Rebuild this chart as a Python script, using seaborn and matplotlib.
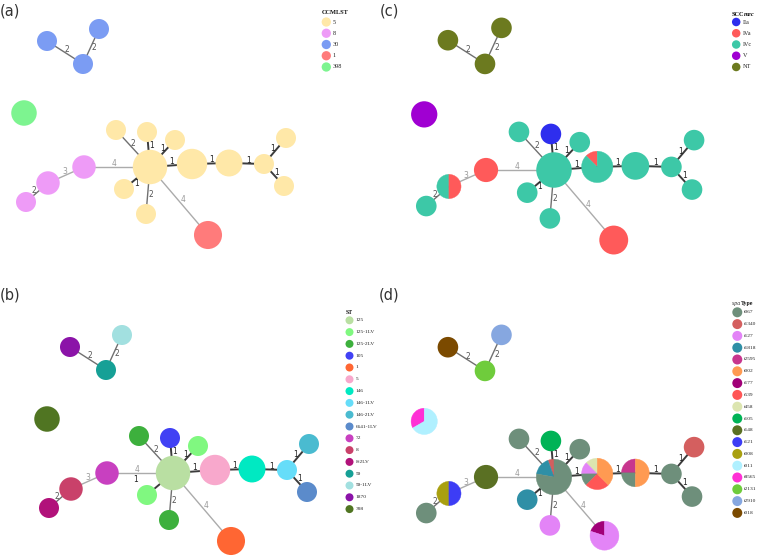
import numpy as np
import matplotlib
matplotlib.use("Agg")
import matplotlib.pyplot as plt
from matplotlib.patches import Circle, Wedge
import seaborn as sns

sns.set_theme(style="white")
plt.rcParams['font.family'] = ['DejaVu Sans']

# ------------------------------------------------------------------ data
node_names = ["hub", "R1", "R2", "R3", "RT", "RB", "UL", "T", "UR", "LL", "B",
              "CC1", "P1", "P2", "P3", "ISO", "A1", "A2", "A3"]
node_counts = [18, 8, 4, 1, 1, 1, 1, 1, 1, 1, 1, 5, 2, 2, 1, 3, 1, 1, 1]

edge_from = ["hub", "hub", "hub", "hub", "R1", "R2", "R3", "R3", "hub", "hub", "hub", "hub", "P1", "P2", "A1", "A3"]
edge_to = ["UL", "T", "UR", "R1", "R2", "R3", "RT", "RB", "LL", "B", "CC1", "P1", "P2", "P3", "A3", "A2"]
edge_dist = [2, 1, 1, 1, 1, 1, 1, 1, 1, 2, 4, 4, 3, 2, 2, 2]

ccmlst_types = ["5", "8", "30", "1", "398"]
ccmlst_colors = ["#FFE8A8", "#EE9BF7", "#7B9CF3", "#FF7B7B", "#7DF490"]
ccmlst_node = ["5", "5", "5", "5", "5", "5", "5", "5", "5", "5", "5",
               "1", "8", "8", "8", "398", "30", "30", "30"]

sccmec_types = ["IIa", "IVa", "IVc", "V", "NT"]
sccmec_colors = ["#2E2EEE", "#FF5A5A", "#3DC8A7", "#A000D2", "#6C7A1F"]
sccmec_node = [[("IVc", 18)], [("IVa", 1), ("IVc", 7)], [("IVc", 4)], [("IVc", 1)],
               [("IVc", 1)], [("IVc", 1)], [("IVc", 1)], [("IIa", 1)], [("IVc", 1)],
               [("IVc", 1)], [("IVc", 1)], [("IVa", 5)], [("IVa", 2)],
               [("IVc", 1), ("IVa", 1)], [("IVc", 1)], [("V", 3)],
               [("NT", 1)], [("NT", 1)], [("NT", 1)]]

st_types = ["125", "125-1LV", "125-2LV", "105", "1", "5", "146", "146-1LV", "146-2LV",
            "6641-1LV", "72", "8", "8-2LV", "59", "59-1LV", "1870", "398"]
st_colors = ["#B9DFA2", "#80F880", "#3DB03D", "#4141F4", "#FF6633", "#F8A8CC", "#00E9C2",
             "#66DDF9", "#4ABBD0", "#5B8BCB", "#C840C0", "#C9416A", "#B1127A", "#16A096",
             "#A2E0E0", "#8B13A8", "#507522"]
st_node = ["125", "5", "146", "146-1LV", "146-2LV", "6641-1LV", "125-2LV", "105", "125-1LV",
           "125-1LV", "125-2LV", "1", "72", "8", "8-2LV", "398", "1870", "59-1LV", "59"]

spa_types = ["t067", "t1340", "t127", "t1818", "t2595", "t002", "t177", "t539", "t458",
             "t105", "t148", "t121", "t008", "t011", "t8565", "t2131", "t2910", "t018"]
spa_colors = ["#6E8F7B", "#D45F5F", "#E384F7", "#2F8FA6", "#C8368E", "#FF9A52", "#A10078",
              "#FF5656", "#DCE5B0", "#00B356", "#5A7023", "#3D3DF5", "#A9A010", "#B0F0FF",
              "#FF30D5", "#6FCC3C", "#86A7E0", "#7B4A00"]
spa_node = [[("t1340", 1), ("t1818", 3), ("t067", 14)],
            [("t458", 1), ("t127", 1), ("t067", 1), ("t539", 2), ("t002", 3)],
            [("t2595", 1), ("t067", 1), ("t002", 2)],
            [("t067", 1)], [("t1340", 1)], [("t067", 1)], [("t067", 1)], [("t105", 1)],
            [("t067", 1)], [("t1818", 1)], [("t127", 1)],
            [("t177", 1), ("t127", 4)], [("t148", 2)], [("t008", 1), ("t121", 1)],
            [("t067", 1)], [("t8565", 1), ("t011", 2)],
            [("t018", 1)], [("t2910", 1)], [("t2131", 1)]]

# ------------------------------------------------------------------ layout
layout_rel = {"hub": (0, 0), "R1": (42, -3), "R2": (79, -4), "R3": (114, -3),
              "RT": (136, -29), "RB": (134, 19), "UL": (-34, -37), "T": (-3, -35),
              "UR": (25, -27), "LL": (-26, 22), "B": (-4, 47), "CC1": (58, 68),
              "P1": (-66, 0), "P2": (-102, 16), "P3": (-124, 35), "ISO": (-126, -54),
              "A1": (-103, -126), "A2": (-51, -138), "A3": (-67, -103)}
label_flip = {("hub", "LL"), ("A3", "A2")}

fig = plt.figure(figsize=(7.59, 5.60), dpi=100, facecolor="white")
ax = fig.add_axes([0, 0, 1, 1])
ax.set_facecolor("white")

SERIF = "Liberation Serif"


def radius(n, sc):
    return (10 + 2.5 * np.log(n)) * sc


def draw_panel(hub, sc, slices_list, cmap, overrides=None, label_over=None):
    overrides = overrides or {}
    label_over = label_over or {}
    pos = {}
    rad = {}
    for name, n in zip(node_names, node_counts):
        rx, ry = overrides.get(name, layout_rel[name])
        pos[name] = np.array([hub[0] + sc * rx, hub[1] + sc * ry])
        rad[name] = radius(n, sc)
    # edges
    for f, t, d in zip(edge_from, edge_to, edge_dist):
        p1, p2 = pos[f], pos[t]
        if d == 1:
            col, lw, tc = "#3c3c3c", 1.4, "#222222"
        elif d == 2:
            col, lw, tc = "#707070", 1.0, "#555555"
        else:
            col, lw, tc = "#ababab", 1.0, "#9a9a9a"
        ax.plot([p1[0], p2[0]], [p1[1], p2[1]], color=col, lw=lw, zorder=1,
                solid_capstyle="butt")
        u = (p2 - p1) / np.linalg.norm(p2 - p1)
        a = p1 + u * rad[f]
        b = p2 - u * rad[t]
        mid = (a + b) / 2
        perp = np.array([u[1], -u[0]])
        if abs(perp[1]) < 0.2:
            if perp[0] < 0:
                perp = -perp
        elif perp[1] > 0:
            perp = -perp
        if (f, t) in label_flip:
            perp = -perp
        lp = mid + perp * 3.5
        if (f, t) in label_over:
            ox, oy = label_over[(f, t)]
            lp = np.array([hub[0] + ox, hub[1] + oy])
        ax.text(lp[0], lp[1], str(d), fontsize=5.5, color=tc, ha="center",
                va="center", zorder=4)
    # nodes
    for name, n, sl in zip(node_names, node_counts, slices_list):
        cx, cy = pos[name]
        r = rad[name]
        if isinstance(sl, str):
            sl = [(sl, n)]
        if len(sl) == 1:
            ax.add_patch(Circle((cx, cy), r, fc=cmap[sl[0][0]], ec="none", zorder=3))
        else:
            total = sum(c for _, c in sl)
            start = 270.0
            for tname, c in sl:
                ang = 360.0 * c / total
                ax.add_patch(Wedge((cx, cy), r, start - ang, start, fc=cmap[tname],
                                   ec=cmap[tname], lw=0.3, zorder=3))
                start -= ang


def draw_legend(x_dot, y0, step, types, colors, dot_d, fs):
    ys = [y0 + i * step for i in range(len(types))]
    sns.scatterplot(x=[x_dot] * len(types), y=ys, hue=types, hue_order=types,
                    palette=dict(zip(types, colors)), s=(0.72 * dot_d) ** 2,
                    linewidth=0, legend=False, ax=ax, zorder=5)
    for t, y in zip(types, ys):
        ax.text(x_dot + dot_d / 2 + 2, y, t, fontsize=fs, family=SERIF,
                ha="left", va="center", color="#222222")


# panel (a)
draw_panel((150, 167), 1.0, ccmlst_node, dict(zip(ccmlst_types, ccmlst_colors)))
draw_legend(326.3, 22, 11.25, ccmlst_types, ccmlst_colors, 9.3, 4.4)
ax.text(321.5, 13, "CCMLST", fontsize=4.6, family=SERIF, fontweight="bold",
        ha="left", va="center", color="#111111")

# panel (c)
draw_panel((554, 170), 1.03, sccmec_node, dict(zip(sccmec_types, sccmec_colors)))
draw_legend(736.2, 22, 11.25, sccmec_types, sccmec_colors, 8.5, 4.4)
t1 = ax.text(731.5, 14, "SCC", fontsize=4.6, family=SERIF, fontweight="bold",
             ha="left", va="center", color="#111111")
ax.annotate("mec", xy=(1, 0), xycoords=t1, fontsize=4.6, family=SERIF,
            fontweight="bold", style="italic", ha="left", va="bottom", color="#111111")

# panel (b)
draw_panel((173, 473), 1.0, st_node, dict(zip(st_types, st_colors)),
           label_over={("hub", "LL"): (-37, 7)})
draw_legend(349.5, 320.3, 11.8, st_types, st_colors, 8.0, 3.9)
ax.text(345.5, 312, "ST", fontsize=4.2, family=SERIF, fontweight="bold",
        ha="left", va="center", color="#111111")

# panel (d)
draw_panel((554, 477), 1.03, spa_node, dict(zip(spa_types, spa_colors)),
           overrides={"CC1": (49, 57)})
draw_legend(737.3, 312.3, 11.8, spa_types, spa_colors, 10.0, 3.9)
t2 = ax.text(731.5, 303, "spa ", fontsize=4.2, family=SERIF, style="italic",
             ha="left", va="center", color="#333333")
ax.annotate("Type", xy=(1, 0), xycoords=t2, fontsize=4.2, family=SERIF,
            fontweight="bold", ha="left", va="bottom", color="#111111")

# panel letters
for lab, (x, y) in zip(["(a)", "(c)", "(b)", "(d)"], [(0, 3), (380, 3), (0, 287), (379, 287)]):
    ax.text(x, y, lab, fontsize=10.5, color="#333333", ha="left", va="top")

ax.set_xlim(0, 759)
ax.set_ylim(560, 0)
ax.axis("off")
fig.savefig("out.png", dpi=100, facecolor="white")
